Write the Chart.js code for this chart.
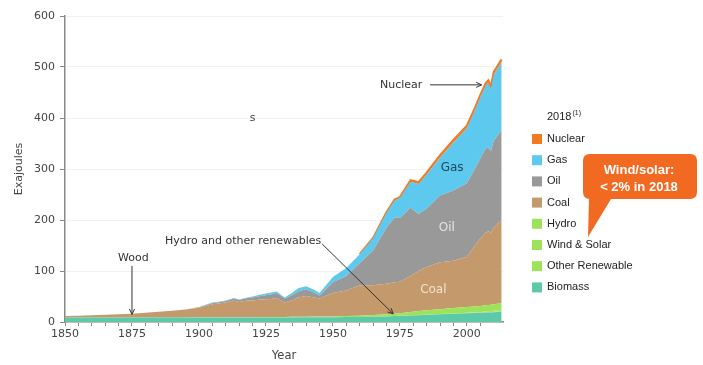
<!DOCTYPE html>
<html>
<head>
<meta charset="utf-8">
<script src="https://cdn.jsdelivr.net/npm/chart.js@4"></script>
<style>
  html, body { margin: 0; padding: 0; background: #fff; }
  #wrap { width: 703px; height: 365px; position: relative; }
</style>
</head>
<body>
<div id="wrap"><canvas id="chartEnergi"></canvas></div>
<script>
// world primary energy by source, exajoules
const years = [1850,1855,1860,1865,1870,1875,1880,1885,1890,1895,1900,1905,1908,1910,1913,1915,1918,1920,1923,1927,1929,1932,1935,1937,1940,1943,1945,1950,1955,1960,1965,1970,1973,1975,1979,1982,1985,1990,1995,2000,2003,2005,2007,2008,2009,2010,2013];

const biomass = [9,9,9,9,9,9,9,9,9,9,9,9,9,9,9,9,9,9,9,9,9,9,9,9.2,9.3,9.4,9.5,9.5,9.8,10,10.5,11,11.6,12,12.8,13.4,14,15,16,17,17.6,18,18.4,18.6,18.8,19,20];
const hydro = [0,0,0,0,0,0,0,0,0,0,0.2,0.2,0.3,0.3,0.4,0.4,0.5,0.5,0.6,0.8,0.9,1,1.2,1.3,1.2,1.3,1.3,1.5,2,2.5,3.2,4,4.6,5,6.6,7.6,8.5,9.5,10.5,11.2,11.6,11.9,12.2,12.4,12.5,12.8,13];
const windSolar = [0,0,0,0,0,0,0,0,0,0,0,0,0,0,0,0,0,0,0,0,0,0,0,0,0,0,0,0,0,0,0,0,0,0,0,0,0,0.1,0.1,0.3,0.5,0.8,1.2,1.4,1.6,1.9,3];
const otherRenew = [0,0,0,0,0,0,0,0,0,0,0,0,0,0,0,0,0,0,0,0,0,0,0,0,0,0,0,0,0,0,0,0.1,0.1,0.2,0.3,0.4,0.5,0.6,0.7,0.8,0.8,0.9,1,1,1,1,1];
const coal = [3,3.5,4,5,6,7,9,11,13,15.5,18.8,25.8,27.7,28.7,32.6,29.6,32.5,32.5,34.4,35.2,37.1,28,32.8,37.5,40.5,37.3,35.2,46,50.2,59.5,58.3,59.9,61.7,61.8,70.3,78.6,85,91.8,92.7,98.7,119.5,131.4,142.2,144.6,141.1,150.3,163];
const oil = [0,0,0,0,0,0,0,0,0,0,1,2,2,3,4,4,5,6,7,9,10,8,10,12,13,10,6,21,28,43,68,110,127,125,134,112,114,131,138,144,150,157,165,164,160,170,176];
const gas = [0,0,0,0,0,0,0,0,0,0,0.5,1,1,1,1,1,1,2,3,4,3,2,5,6,6,5,5,10,16,18,24.7,29,33.5,39,51,58.5,67,74.5,94,108,115,120,123,127,122,130,134];
const nuclear = [0,0,0,0,0,0,0,0,0,0,0,0,0,0,0,0,0,0,0,0,0,0,0,0,0,0,0,0,0,0,0.3,1,1.5,2,3,3.5,4,4.5,5,5,5,5,5,5,5,5,5];

const yTicks = [0, 100, 200, 300, 400, 500, 600];

function pts(vals) {
  return years.map((yr, i) => ({ x: yr, y: vals[i] }));
}

function lapisan(label, vals, warna, extra) {
  return Object.assign({
    label: label,
    data: pts(vals),
    backgroundColor: warna,
    borderColor: warna,
    borderWidth: 0,
    pointRadius: 0,
    tension: 0,
    fill: '-1'
  }, extra || {});
}

// bottom of the stack first
const datasets = [
  lapisan('Biomass', biomass, '#5ccaa9', { fill: 'origin' }),
  lapisan('Other Renewable', otherRenew, '#9de35a'),
  lapisan('Wind & Solar', windSolar, '#9de35a'),
  lapisan('Hydro', hydro, '#9de35a'),
  lapisan('Coal', coal, '#c4996b'),
  lapisan('Oil', oil, '#999999'),
  lapisan('Gas', gas, '#5ec9ee'),
  lapisan('Nuclear', nuclear, '#f47a22', {
    borderWidth: 2,
    segment: {
      borderColor: c => (nuclear[c.p0DataIndex] === 0 && nuclear[c.p1DataIndex] === 0) ? 'rgba(0,0,0,0)' : undefined
    }
  })
];

function panah(ctx, x1, y1, x2, y2) {
  ctx.beginPath();
  ctx.moveTo(x1, y1);
  ctx.lineTo(x2, y2);
  ctx.stroke();
  const a = Math.atan2(y2 - y1, x2 - x1);
  ctx.beginPath();
  ctx.moveTo(x2 - 6 * Math.cos(a - 0.45), y2 - 6 * Math.sin(a - 0.45));
  ctx.lineTo(x2, y2);
  ctx.lineTo(x2 - 6 * Math.cos(a + 0.45), y2 - 6 * Math.sin(a + 0.45));
  ctx.stroke();
}

// labels and arrows inside the plot
const catatan = {
  id: 'catatan',
  afterDatasetsDraw(chart) {
    const ctx = chart.ctx;
    const x = chart.scales.x, y = chart.scales.y;
    ctx.save();
    ctx.font = '11px "DejaVu Sans"';
    ctx.fillStyle = '#333';
    ctx.strokeStyle = '#333';
    ctx.lineWidth = 1;
    ctx.textAlign = 'center';
    ctx.textBaseline = 'middle';

    ctx.fillText('Wood', x.getPixelForValue(1875.5), y.getPixelForValue(125));
    panah(ctx, x.getPixelForValue(1875), y.getPixelForValue(110), x.getPixelForValue(1875), y.getPixelForValue(15));

    ctx.fillText('Hydro and other renewables', x.getPixelForValue(1916.5), y.getPixelForValue(159));
    panah(ctx, x.getPixelForValue(1946), y.getPixelForValue(153), x.getPixelForValue(1972.5), y.getPixelForValue(16));

    ctx.fillText('Nuclear', x.getPixelForValue(1975.5), y.getPixelForValue(465));
    panah(ctx, x.getPixelForValue(1986.3), y.getPixelForValue(465), x.getPixelForValue(2005.5), y.getPixelForValue(465));

    ctx.fillStyle = '#444';
    ctx.fillText('s', x.getPixelForValue(1920), y.getPixelForValue(400));

    ctx.font = '12px "DejaVu Sans"';
    ctx.fillStyle = '#1e4a5a';
    ctx.fillText('Gas', x.getPixelForValue(1994.5), y.getPixelForValue(302));
    ctx.fillStyle = '#e4e4e4';
    ctx.fillText('Oil', x.getPixelForValue(1992.5), y.getPixelForValue(184));
    ctx.fillStyle = '#f3e2cc';
    ctx.fillText('Coal', x.getPixelForValue(1987.5), y.getPixelForValue(63));
    ctx.restore();
  }
};

// legend on the right plus the orange callout
const legendaKanan = {
  id: 'legendaKanan',
  afterDraw(chart) {
    const ctx = chart.ctx;
    const kiri = chart.chartArea.right + 29;
    ctx.save();
    ctx.textBaseline = 'middle';
    ctx.textAlign = 'left';
    ctx.fillStyle = '#222';
    ctx.font = '11px "Liberation Sans", Arial';
    ctx.fillText('2018', kiri + 15, 117);
    const w = ctx.measureText('2018').width;
    ctx.font = '7px "Liberation Sans", Arial';
    ctx.fillText('(1)', kiri + 16 + w, 113);

    ctx.font = '11px "Liberation Sans", Arial';
    const urut = chart.data.datasets.slice().reverse();
    urut.forEach((ds, i) => {
      const yy = 139 + i * 21.2;
      ctx.fillStyle = ds.backgroundColor;
      ctx.fillRect(kiri, yy - 5, 10, 10);
      ctx.fillStyle = '#222';
      ctx.fillText(ds.label, kiri + 15, yy);
    });

    // callout bubble
    const bx = 583, by = 154, bw = 114, bh = 45, r = 7;
    ctx.fillStyle = '#f26a22';
    ctx.beginPath();
    ctx.moveTo(bx + r, by);
    ctx.lineTo(bx + bw - r, by);
    ctx.quadraticCurveTo(bx + bw, by, bx + bw, by + r);
    ctx.lineTo(bx + bw, by + bh - r);
    ctx.quadraticCurveTo(bx + bw, by + bh, bx + bw - r, by + bh);
    ctx.lineTo(bx + 28, by + bh);
    ctx.lineTo(bx + 5, by + 83);
    ctx.lineTo(bx + 6, by + bh);
    ctx.lineTo(bx + r, by + bh);
    ctx.quadraticCurveTo(bx, by + bh, bx, by + bh - r);
    ctx.lineTo(bx, by + r);
    ctx.quadraticCurveTo(bx, by, bx + r, by);
    ctx.closePath();
    ctx.fill();

    ctx.fillStyle = '#fff';
    ctx.textAlign = 'center';
    ctx.font = 'bold 13px "Liberation Sans", Arial';
    ctx.fillText('Wind/solar:', bx + bw / 2 - 1, by + 16);
    ctx.fillText('< 2% in 2018', bx + bw / 2 - 1, by + 33);
    ctx.restore();
  }
};

const ctx = document.getElementById('chartEnergi').getContext('2d');
new Chart(ctx, {
  type: 'line',
  data: { datasets: datasets },
  options: {
    responsive: true,
    maintainAspectRatio: false,
    animation: false,
    layout: { padding: { left: 13, right: 200, top: 16, bottom: 0 } },
    plugins: {
      legend: { display: false },
      tooltip: { enabled: false }
    },
    scales: {
      x: {
        type: 'linear',
        min: 1850,
        max: 2013.5,
        afterBuildTicks: axis => { axis.ticks = axis.ticks.filter(t => t.value % 5 === 0); },
        afterFit: s => { s.height = 43; },
        ticks: {
          stepSize: 5,
          autoSkip: false,
          maxRotation: 0,
          padding: 2,
          color: '#444',
          font: { family: 'DejaVu Sans', size: 11 },
          callback: v => (v % 25 === 0 ? String(v) : '')
        },
        grid: { drawOnChartArea: false, tickLength: 4, tickColor: '#888' },
        border: { color: '#888', width: 1.5 },
        title: {
          display: true,
          text: 'Year',
          color: '#444',
          padding: { top: 2, bottom: 2 },
          font: { family: 'DejaVu Sans', size: 11.5 }
        }
      },
      y: {
        stacked: true,
        min: 0,
        max: 600,
        afterBuildTicks: axis => { axis.ticks = yTicks.map(v => ({ value: v })); },
        afterFit: s => { s.width = 52; },
        ticks: {
          color: '#444',
          padding: 5,
          font: { family: 'DejaVu Sans', size: 11 }
        },
        grid: { color: '#f1f1f1', tickLength: 5, tickColor: '#888' },
        border: { color: '#888', width: 1.5 },
        title: {
          display: true,
          text: 'Exajoules',
          color: '#444',
          padding: { top: 0, bottom: 2 },
          font: { family: 'DejaVu Sans', size: 11 }
        }
      }
    }
  },
  plugins: [catatan, legendaKanan]
});
</script>
</body>
</html>
